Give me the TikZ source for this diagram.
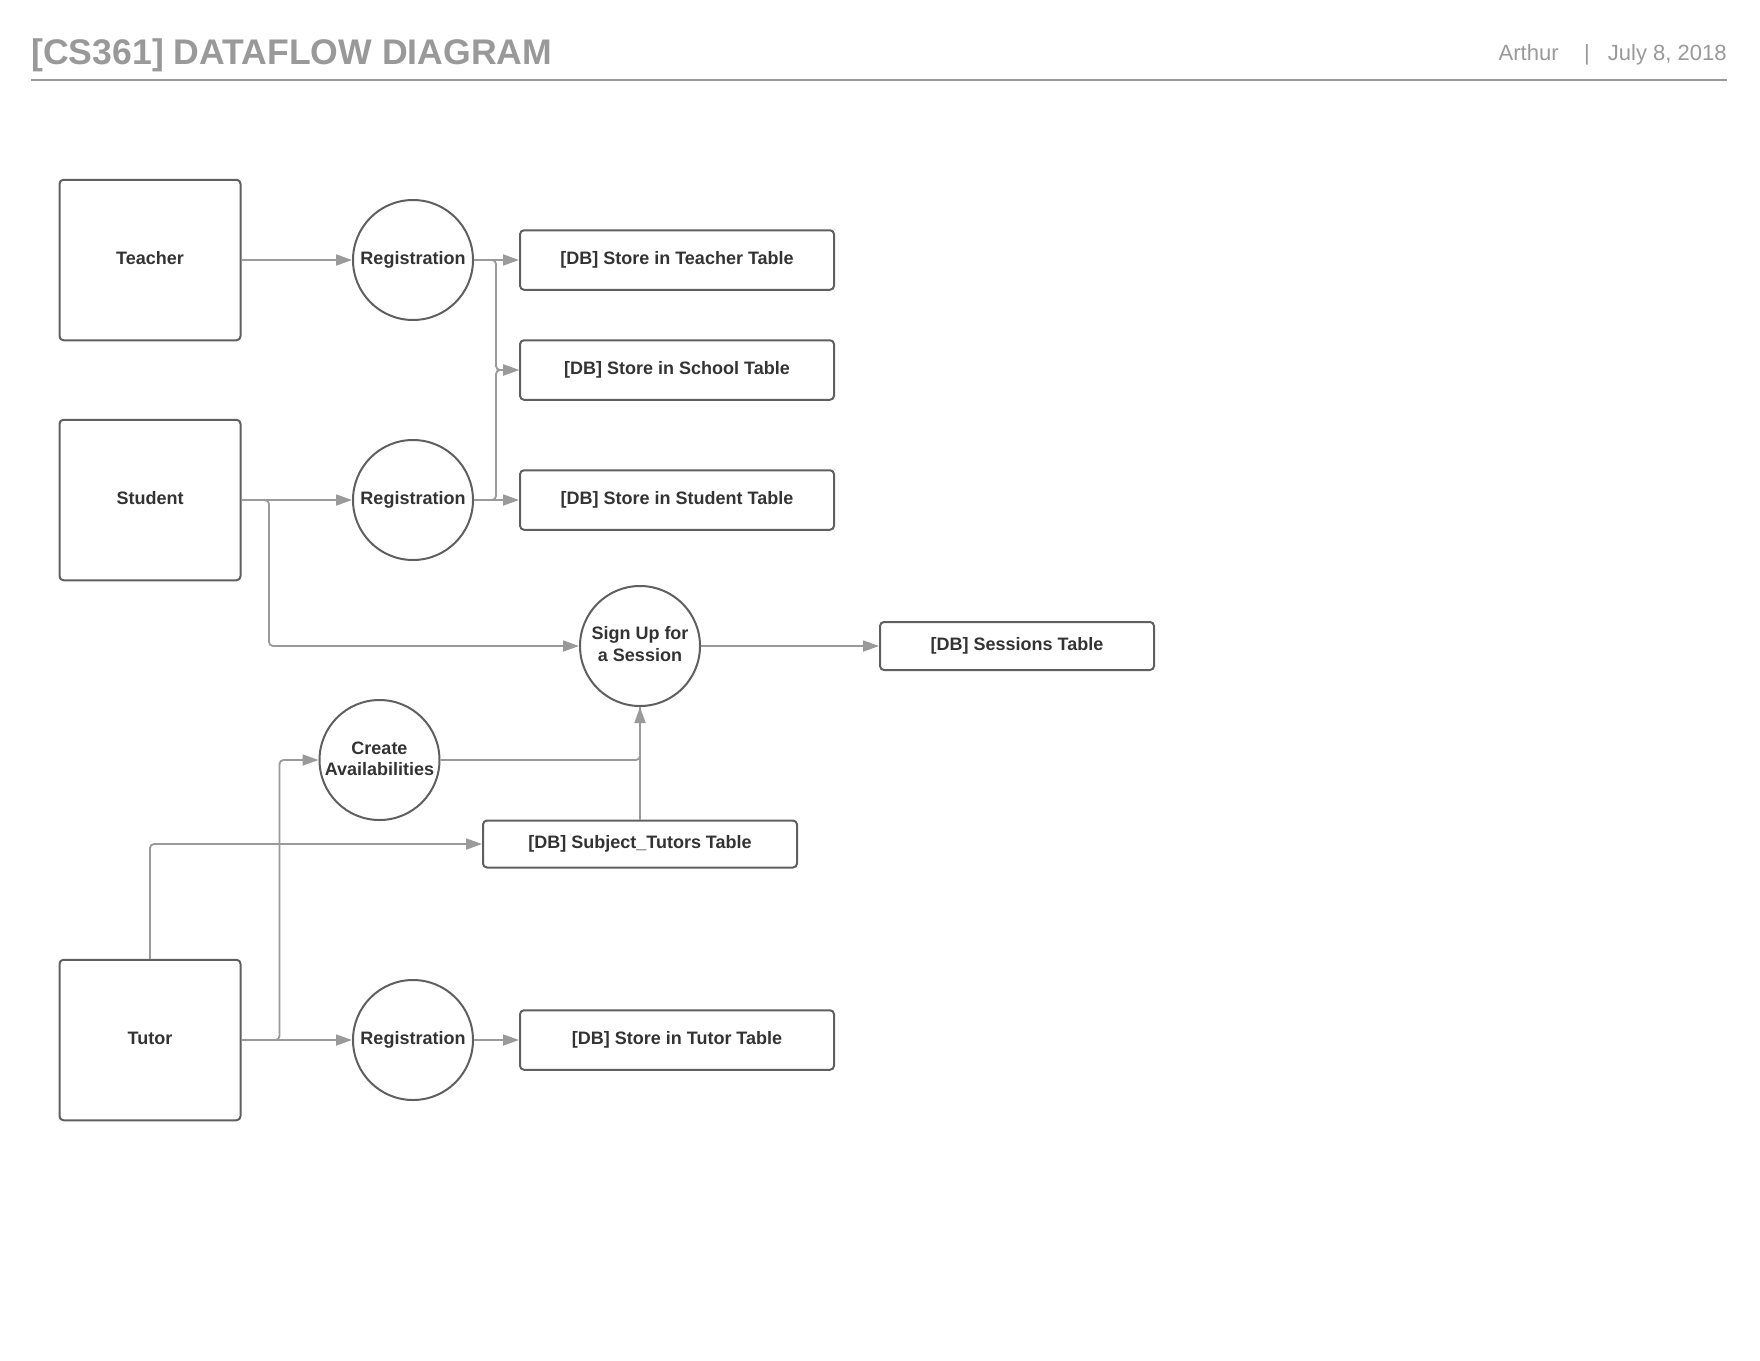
\documentclass[tikz,border=0pt]{standalone}
\usepackage{fontspec}
\setmainfont{Liberation Sans}
\usetikzlibrary{arrows.meta,positioning}
\definecolor{txt}{HTML}{333333}
\definecolor{bord}{HTML}{5F5F5F}
\definecolor{conn}{HTML}{9A9A9A}
\definecolor{head}{HTML}{999999}
\tikzset{
  ent/.style={draw=bord, line width=1pt, rounded corners=2pt, minimum width=90.5pt, minimum height=80.25pt, text depth=2.2pt, font=\bfseries\fontsize{9}{10.7}\selectfont, text=txt},
  proc/.style={circle, draw=bord, line width=1pt, minimum size=60pt, inner sep=0pt, align=center, font=\bfseries\fontsize{9}{10.7}\selectfont, text=txt},
  dbbox/.style={draw=bord, line width=1pt, rounded corners=2pt, minimum width=157pt, minimum height=29.75pt, font=\bfseries\fontsize{9}{10.7}\selectfont, text=txt},
  flow/.style={draw=conn, line width=0.9pt, rounded corners=2pt, -{Triangle[length=8pt,width=5.5pt]}, color=conn},
  line/.style={draw=conn, line width=0.9pt, rounded corners=2pt}
}
\begin{document}
\begin{tikzpicture}[x=0.5pt,y=-0.5pt]
\useasboundingbox (0,0) rectangle (1760,1360);
% header
\node[anchor=base west, inner sep=0pt, text=head, font=\bfseries\fontsize{17.8}{20}\selectfont] (title) at (31,64) {[CS361] DATAFLOW DIAGRAM};
\node[anchor=base east, inner sep=0pt, text=head, font=\fontsize{11}{13}\selectfont] (date) at (1727,60.5) {July 8, 2018};
\node[anchor=base, inner sep=0pt, text=head, font=\fontsize{11}{13}\selectfont] (bar) at (1587,60.5) {|};
\node[anchor=base east, inner sep=0pt, text=head, font=\fontsize{11}{13}\selectfont] (author) at (1559,60.5) {Arthur};
\coordinate (hl) at (31,80);
\coordinate (hr) at (1727,80);
\draw[head, line width=1pt] (hl) -- (hr);

% entities
\node[ent] (teacher) at (150,260) {Teacher};
\node[ent] (student) at (150,500) {Student};
\node[ent] (tutor) at (150,1040) {Tutor};

% processes
\node[proc] (r1) at (413,260) {Registration};
\node[proc] (r2) at (413,500) {Registration};
\node[proc] (r3) at (413,1040) {Registration};
\node[proc, text depth=2.2pt] (signup) at (640,646) {Sign Up for\\a Session};
\node[proc, text depth=1.2pt] (create) at (379.5,760) {Create\\Availabilities};

% stores
\node[dbbox] (tt) at (677,260) {[DB] Store in Teacher Table};
\node[dbbox] (st) at (677,370) {[DB] Store in School Table};
\node[dbbox] (stu) at (677,500) {[DB] Store in Student Table};
\node[dbbox] (tut) at (677,1040) {[DB] Store in Tutor Table};
\node[dbbox, minimum width=137pt, minimum height=24pt] (sess) at (1017,646) {[DB] Sessions Table};
\node[dbbox, minimum height=23.5pt] (subj) at (640,844) {[DB] Subject\_Tutors Table};

% helper coordinates
\coordinate (jx) at (496,370);
\coordinate (sj) at (269,646);
\coordinate (tj) at (279.5,760);

% connectors
\draw[flow] (teacher.east) -- (r1.west);
\draw[flow] (student.east) -- (r2.west);
\draw[flow] (tutor.east) -- (r3.west);
\draw[flow] (r1.east) -- (tt.west);
\draw[flow] (r2.east) -- (stu.west);
\draw[flow] (r3.east) -- (tut.west);
\draw[flow] (r1.east) -| (jx) -- (st.west);
\draw[flow] (r2.east) -| (jx) -- (st.west);
\draw[flow] (student.east) -| (sj) -- (signup.west);
\draw[flow] (tutor.east) -| (tj) -- (create.west);
\draw[flow] (tutor.north) |- (subj.west);
\draw[line] (create.east) -| (signup.south);
\draw[flow] (subj.north) -- (signup.south);
\draw[flow] (signup.east) -- (sess.west);
\end{tikzpicture}
\end{document}
